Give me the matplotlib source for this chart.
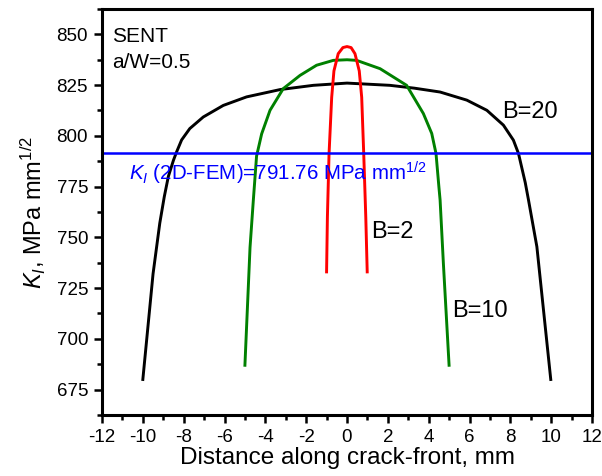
import numpy as np
import matplotlib
matplotlib.use("Agg")
import matplotlib.pyplot as plt
from matplotlib.ticker import MultipleLocator

plt.rcParams['font.family'] = ['Liberation Sans', 'DejaVu Sans']
plt.rcParams['mathtext.fontset'] = 'custom'
plt.rcParams['mathtext.rm'] = 'Liberation Sans'
plt.rcParams['mathtext.it'] = 'Liberation Sans:italic'
plt.rcParams['axes.unicode_minus'] = False

# K_I along the crack front for three specimen thicknesses (B in mm)
x_b20 = [-10.0, -9.5, -9.17, -8.95, -8.75, -8.5, -8.35, -8.1, -7.7, -7.04,
         -6.06, -4.92, -3.28, -1.65, 0.0, 2.1, 3.3, 4.56, 5.87, 6.85, 7.66,
         8.15, 8.4, 8.73, 8.89, 9.3, 9.98]
k_b20 = [680, 732, 757, 770, 780, 788, 792, 798, 803.6, 809.3,
         815, 819.2, 822.8, 824.9, 826, 824.9, 823.5, 821.6, 817.6, 812.6, 805.3,
         797.9, 791.3, 777, 768.4, 745.4, 680]

x_b10 = [-5.0, -4.75, -4.59, -4.43, -4.18, -3.77, -3.12, -2.3, -1.49, -0.67,
         0.0, 0.47, 1.62, 2.92, 3.74, 4.15, 4.36, 4.5, 4.56, 4.72, 5.0]
k_b10 = [687, 745, 768, 790, 801, 812.6, 823.3, 829.8, 834.8, 837.2,
         837.5, 837.2, 833.1, 824.9, 811, 801.2, 791.3, 775, 768.4, 737.3, 687]

x_b2 = [-1.0, -0.96, -0.88, -0.75, -0.64, -0.43, -0.2, 0.0,
        0.2, 0.39, 0.6, 0.72, 0.82, 0.92, 0.99]
k_b2 = [733, 760, 791, 819, 832, 840.5, 843.5, 844,
        843.5, 840.5, 832, 819, 791, 760, 733]

k_2d = 791.76

fig = plt.figure(figsize=(6.02, 4.76), dpi=100)
ax = fig.add_axes([102/602, 1-415/476, 490/602, 406/476])

ax.plot(x_b20, k_b20, color='black', lw=2.1, solid_joinstyle='round')
ax.plot(x_b10, k_b10, color='#008000', lw=2.1, solid_joinstyle='round')
ax.plot(x_b2, k_b2, color='red', lw=2.1, solid_joinstyle='round')
ax.axhline(k_2d, color='#0000ff', lw=1.8)

ax.set_xlim(-12, 12)
ax.set_ylim(662.5, 862.5)
ax.xaxis.set_major_locator(MultipleLocator(2))
ax.xaxis.set_minor_locator(MultipleLocator(1))
ax.yaxis.set_major_locator(MultipleLocator(25))
ax.yaxis.set_minor_locator(MultipleLocator(12.5))
ax.tick_params(which='both', direction='out', width=1.8, labelsize=13.5,
               top=False, right=False)
ax.tick_params(which='major', length=6, pad=4)
ax.tick_params(which='minor', length=3.5)
for s in ax.spines.values():
    s.set_linewidth(2.2)

ax.set_xlabel('Distance along crack-front, mm', fontsize=17.5, labelpad=1)
ax.set_ylabel(r'$K_I$, MPa mm$^{1/2}$', fontsize=17, labelpad=6)

ax.text(-11.5, 849, 'SENT', fontsize=15, va='center')
ax.text(-11.5, 836, 'a/W=0.5', fontsize=15, va='center')
ax.text(7.6, 812, 'B=20', fontsize=17, va='center')
ax.text(1.2, 752.5, 'B=2', fontsize=17, va='center')
ax.text(5.15, 713.5, 'B=10', fontsize=17, va='center')
ax.text(-10.7, 781.7, r'$K_I$ (2D-FEM)=791.76 MPa mm$^{1/2}$', fontsize=14.8,
        color='#0000ff', va='center')

fig.savefig('out.png', dpi=100)
